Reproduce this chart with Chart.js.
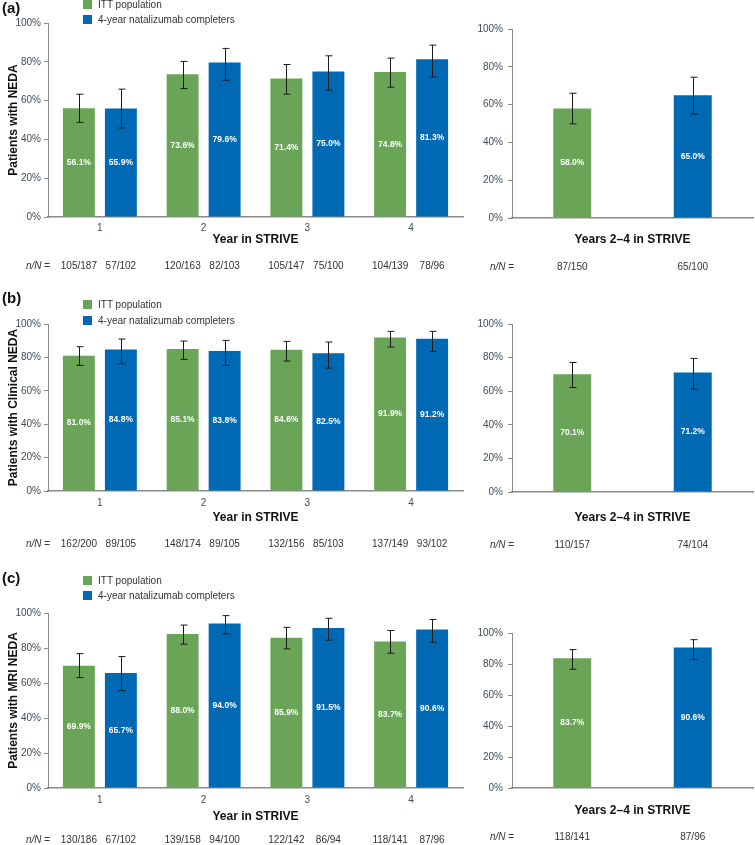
<!DOCTYPE html>
<html>
<head>
<meta charset="utf-8">
<script src="https://cdn.jsdelivr.net/npm/chart.js@4.4.1/dist/chart.umd.min.js"></script>
<style>
  body { margin: 0; background: #fff; }
  #page { position: relative; width: 755px; height: 845px; overflow: hidden; font-family: "Liberation Sans", Arial, sans-serif; }
  .tag { position: absolute; left: 2px; font-size: 15px; font-weight: bold; color: #111; line-height: 16px; }
  .key { position: absolute; left: 83px; font-size: 10px; color: #333; line-height: 12px; white-space: nowrap; }
  .key i { display: inline-block; width: 9px; height: 9px; margin-right: 6px; vertical-align: -1px; }
</style>
</head>
<body>
<div id="page"></div>
<script>
const yearLabels = ["1", "2", "3", "4"];
const seriesNames = ["ITT population", "4-year natalizumab completers"];
const tickValues = [0, 20, 40, 60, 80, 100];

// (a) NEDA
const nedaItt = [56.1, 73.6, 71.4, 74.8];
const nedaIttLow = [48.8, 66.2, 63.3, 66.9];
const nedaIttHigh = [63.3, 80.2, 78.6, 81.9];
const nedaIttN = ["105/187", "120/163", "105/147", "104/139"];
const nedaComp = [55.9, 79.6, 75.0, 81.3];
const nedaCompLow = [45.9, 70.5, 65.4, 72.1];
const nedaCompHigh = [65.9, 86.9, 83.1, 88.6];
const nedaCompN = ["57/102", "82/103", "75/100", "78/96"];
const nedaPooled = [58.0, 65.0];
const nedaPooledLow = [49.8, 55.0];
const nedaPooledHigh = [66.0, 74.5];
const nedaPooledN = ["87/150", "65/100"];

// (b) clinical NEDA
const clinItt = [81.0, 85.1, 84.6, 91.9];
const clinIttLow = [75.2, 78.8, 77.8, 86.2];
const clinIttHigh = [86.4, 89.8, 89.6, 95.6];
const clinIttN = ["162/200", "148/174", "132/156", "137/149"];
const clinComp = [84.8, 83.8, 82.5, 91.2];
const clinCompLow = [76.2, 75.2, 73.6, 83.6];
const clinCompHigh = [91.0, 90.2, 89.2, 95.6];
const clinCompN = ["89/105", "89/105", "85/103", "93/102"];
const clinPooled = [70.1, 71.2];
const clinPooledLow = [62.2, 61.2];
const clinPooledHigh = [77.1, 79.5];
const clinPooledN = ["110/157", "74/104"];

// (c) MRI NEDA
const mriItt = [69.9, 88.0, 85.9, 83.7];
const mriIttLow = [63.1, 82.2, 79.5, 77.0];
const mriIttHigh = [76.8, 93.1, 91.8, 90.0];
const mriIttN = ["130/186", "139/158", "122/142", "118/141"];
const mriComp = [65.7, 94.0, 91.5, 90.6];
const mriCompLow = [55.6, 88.0, 84.5, 83.3];
const mriCompHigh = [75.1, 98.5, 97.0, 96.3];
const mriCompN = ["67/102", "94/100", "86/94", "87/96"];
const mriPooled = [83.7, 90.6];
const mriPooledLow = [76.6, 82.9];
const mriPooledHigh = [89.3, 95.7];
const mriPooledN = ["118/141", "87/96"];

const GREEN = "#6AA557";
const BLUE = "#0069B4";
const TICK_COLOR = "#3F4D5C";
const AXIS_COLOR = "#8A8A8A";
const FONT = '"Liberation Sans", Arial, sans-serif';

Chart.defaults.font.family = FONT;
Chart.defaults.animation = false;

const page = document.getElementById("page");

// error bars, in-bar values and the n/N row under the axis
const barExtras = {
  id: "barExtras",
  afterDatasetsDraw(chart) {
    const ctx = chart.ctx;
    const y = chart.scales.y;
    ctx.save();
    chart.data.datasets.forEach((ds, i) => {
      chart.getDatasetMeta(i).data.forEach((bar, j) => {
        const top = y.getPixelForValue(ds.high[j]);
        const bot = y.getPixelForValue(ds.low[j]);
        const x = Math.round(bar.x) + 0.5;
        ctx.strokeStyle = "#1b1b1b";
        ctx.lineWidth = 1;
        ctx.beginPath();
        ctx.moveTo(x, top); ctx.lineTo(x, bot);
        ctx.moveTo(x - 3, top); ctx.lineTo(x + 4, top);
        ctx.moveTo(x - 3, bot); ctx.lineTo(x + 4, bot);
        ctx.stroke();
        ctx.fillStyle = "#ffffff";
        ctx.font = "bold 8.5px " + FONT;
        ctx.textAlign = "center";
        ctx.textBaseline = "middle";
        ctx.fillText(ds.data[j].toFixed(1) + "%", bar.x, (bar.y + bar.base) / 2);
      });
    });
    ctx.restore();
  },
  afterDraw(chart, args, opts) {
    const ctx = chart.ctx;
    ctx.save();
    ctx.fillStyle = "#333";
    ctx.textBaseline = "middle";
    ctx.textAlign = "left";
    ctx.font = "italic 10px " + FONT;
    ctx.fillText("n/N", opts.labelX, opts.rowY);
    const w = ctx.measureText("n/N").width;
    ctx.font = "10px " + FONT;
    ctx.fillText(" =", opts.labelX + w, opts.rowY);
    ctx.textAlign = "center";
    chart.data.datasets.forEach((ds, i) => {
      chart.getDatasetMeta(i).data.forEach((bar, j) => {
        ctx.fillText(ds.counts[j], bar.x, opts.rowY);
      });
    });
    ctx.restore();
  }
};

function addCanvas(box) {
  const c = document.createElement("canvas");
  c.width = box.w;
  c.height = box.h;
  c.style.cssText = `position:absolute;left:${box.x}px;top:${box.y}px;width:${box.w}px;height:${box.h}px`;
  page.appendChild(c);
  return c;
}

function addText(cls, html, top) {
  const d = document.createElement("div");
  d.className = cls;
  d.style.top = top + "px";
  d.innerHTML = html;
  page.appendChild(d);
}

function makeChart(cfg) {
  const { box, plot, yAxisW, xAxisH } = cfg;
  const canvas = addCanvas(box);
  new Chart(canvas, {
    type: "bar",
    data: { labels: cfg.labels, datasets: cfg.datasets },
    plugins: [barExtras],
    options: {
      responsive: false,
      layout: {
        padding: {
          left: plot[0] - box.x - yAxisW,
          top: plot[1] - box.y,
          right: box.x + box.w - plot[2],
          bottom: box.y + box.h - plot[3] - xAxisH,
        },
      },
      plugins: {
        legend: { display: false },
        tooltip: { enabled: false },
        barExtras: { rowY: cfg.rowY - box.y, labelX: cfg.rowLabelX - box.x },
      },
      scales: {
        x: {
          afterFit: (s) => { s.height = xAxisH; },
          grid: { display: false, drawTicks: false },
          border: { color: AXIS_COLOR, width: 1.5 },
          ticks: { display: cfg.showTicks, padding: cfg.tickPad, color: TICK_COLOR, font: { size: 10 } },
          title: { display: true, text: cfg.xTitle, color: "#111", padding: 0, font: { size: 12, weight: "bold" } },
        },
        y: {
          min: 0,
          max: 100,
          afterFit: (s) => { s.width = yAxisW; },
          afterBuildTicks: (s) => { s.ticks = tickValues.map((v) => ({ value: v })); },
          ticks: { padding: cfg.yPad, color: TICK_COLOR, font: { size: 10 }, callback: (v) => v + "%" },
          grid: { drawOnChartArea: false, drawTicks: true, tickLength: 4, color: AXIS_COLOR },
          border: { color: AXIS_COLOR, width: 1 },
          title: {
            display: !!cfg.yTitle,
            text: cfg.yTitle || "",
            color: "#111",
            padding: { top: 6 },
            font: { size: 12, weight: "bold" },
          },
        },
      },
    },
  });
}

function yearSets(itt, ittLow, ittHigh, ittN, comp, compLow, compHigh, compN) {
  const common = { barPercentage: 0.76, categoryPercentage: 0.81, borderWidth: 0 };
  return [
    Object.assign({ label: seriesNames[0], data: itt, low: ittLow, high: ittHigh, counts: ittN, backgroundColor: GREEN }, common),
    Object.assign({ label: seriesNames[1], data: comp, low: compLow, high: compHigh, counts: compN, backgroundColor: BLUE }, common),
  ];
}

function pooledSets(vals, low, high, n) {
  return [{ label: "Years 2–4", data: vals, low: low, high: high, counts: n,
    backgroundColor: [GREEN, BLUE], barPercentage: 0.315, categoryPercentage: 1, borderWidth: 0 }];
}

const panels = [
  {
    tag: "(a)", tagY: 0, keyY: [-1, 14], top: 0, h: 280, yTitle: "Patients with NEDA",
    left: { plot: [48, 23, 463, 217], xAxisH: 30.2, tickPad: 5, rowY: 266 },
    right: { plot: [512, 29, 753, 218], xAxisH: 29.2, rowY: 267 },
    years: yearSets(nedaItt, nedaIttLow, nedaIttHigh, nedaIttN, nedaComp, nedaCompLow, nedaCompHigh, nedaCompN),
    pooled: pooledSets(nedaPooled, nedaPooledLow, nedaPooledHigh, nedaPooledN),
  },
  {
    tag: "(b)", tagY: 290, keyY: [299, 315], top: 280, h: 280, yTitle: "Patients with Clinical NEDA",
    left: { plot: [48, 324, 463, 491], xAxisH: 34.2, tickPad: 6, rowY: 544 },
    right: { plot: [512, 324, 753, 492], xAxisH: 33.2, rowY: 545 },
    years: yearSets(clinItt, clinIttLow, clinIttHigh, clinIttN, clinComp, clinCompLow, clinCompHigh, clinCompN),
    pooled: pooledSets(clinPooled, clinPooledLow, clinPooledHigh, clinPooledN),
  },
  {
    tag: "(c)", tagY: 570, keyY: [575, 590], top: 560, h: 285, yTitle: "Patients with MRI NEDA",
    left: { plot: [48, 613, 463, 788], xAxisH: 36.2, tickPad: 6, rowY: 840 },
    right: { plot: [512, 633, 753, 788], xAxisH: 30.2, rowY: 837 },
    years: yearSets(mriItt, mriIttLow, mriIttHigh, mriIttN, mriComp, mriCompLow, mriCompHigh, mriCompN),
    pooled: pooledSets(mriPooled, mriPooledLow, mriPooledHigh, mriPooledN),
  },
];

panels.forEach((p) => {
  makeChart({
    box: { x: 0, y: p.top, w: 470, h: p.h },
    plot: p.left.plot, yAxisW: 48, xAxisH: p.left.xAxisH, yPad: 3,
    labels: yearLabels, datasets: p.years, showTicks: true, tickPad: p.left.tickPad,
    xTitle: "Year in STRIVE", yTitle: p.yTitle, rowY: p.left.rowY, rowLabelX: 26,
  });
  makeChart({
    box: { x: 470, y: p.top, w: 285, h: p.h },
    plot: p.right.plot, yAxisW: 42, xAxisH: p.right.xAxisH, yPad: 5,
    labels: seriesNames, datasets: p.pooled, showTicks: false, tickPad: 0,
    xTitle: "Years 2–4 in STRIVE", yTitle: "", rowY: p.right.rowY, rowLabelX: 490,
  });
  addText("tag", p.tag, p.tagY);
  addText("key", `<i style="background:${GREEN}"></i>${seriesNames[0]}`, p.keyY[0]);
  addText("key", `<i style="background:${BLUE}"></i>${seriesNames[1]}`, p.keyY[1]);
});
</script>
</body>
</html>
